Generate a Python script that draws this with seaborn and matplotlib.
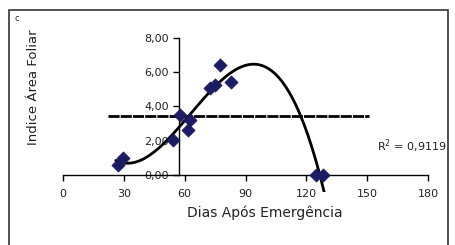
import numpy as np
import pandas as pd
import matplotlib
matplotlib.use("Agg")
import matplotlib.pyplot as plt
import seaborn as sns
from matplotlib.patches import Rectangle

# observed points (days after emergence, leaf area index)
dias = [27, 29.5, 54, 57.5, 61.5, 62.5, 72.5, 75, 77.5, 83, 125, 128]
iaf = [0.6, 1.0, 2.05, 3.5, 2.6, 3.2, 5.1, 5.25, 6.45, 5.4, 0.0, 0.0]

# horizontal reference line
ref_y = 3.45
ref_x = [22, 151]

x_ticks = [0, 30, 60, 90, 120, 150, 180]
y_ticks = [0, 2, 4, 6, 8]
r2_text = "R$^2$ = 0,9119"

sns.set_theme(style="white")
plt.rcParams['font.family'] = ['DejaVu Sans']

df = pd.DataFrame({"dias": dias, "iaf": iaf})

# polynomial trendline fitted to the points
coef = np.polyfit(dias, iaf, 3)
xs = np.linspace(26, 129, 200)
trend = pd.DataFrame({"dias": xs, "iaf": np.polyval(coef, xs)})

fig = plt.figure(figsize=(4.55, 2.45), dpi=100)
ax = fig.add_axes([0.1385, 0.2163, 0.8022, 0.6706])

sns.lineplot(data=trend, x="dias", y="iaf", color="black", lw=2, ax=ax)
ax.plot(ref_x, [ref_y, ref_y], color="black", lw=2, linestyle=(0, (4, 0.4)))
sns.scatterplot(data=df, x="dias", y="iaf", marker="D", s=45, color="#1c1c64",
                edgecolor="#1c1c64", ax=ax, zorder=5)

ax.set_xlim(0, 180)
ax.set_ylim(-1.0, 8.6)
ax.set_xticks(x_ticks)
ax.set_yticks(y_ticks)
ax.set_xticklabels([str(t) for t in x_ticks])
ax.set_yticklabels([f"{t:.2f}".replace(".", ",") for t in y_ticks])

for s in ["top", "right"]:
    ax.spines[s].set_visible(False)
ax.spines["left"].set_position(("data", 57))
ax.spines["left"].set_bounds(0, 8)
ax.spines["bottom"].set_position(("data", 0))
ax.spines["bottom"].set_bounds(0, 180)
for s in ["left", "bottom"]:
    ax.spines[s].set_color("black")
    ax.spines[s].set_linewidth(1)
ax.tick_params(axis="both", direction="out", length=4, width=1, color="black",
               labelsize=8, labelcolor="#222222", left=True, bottom=True)
ax.tick_params(axis="x", pad=6)
ax.tick_params(axis="y", pad=3)
ax.set_xlabel("")
ax.set_ylabel("")

fig.text(0.582, 0.13, "Dias Após Emergência", fontsize=10, ha="center", va="center",
         color="#222222")
fig.text(0.073, 0.645, "Indice Área Foliar", fontsize=9.5, rotation=90,
         ha="center", va="center", color="#222222")
fig.text(0.038, 0.925, "c", fontsize=6, ha="center", va="center")
fig.text(0.828, 0.405, r2_text, fontsize=8, ha="left", va="center", color="#222222")

fig.patches.append(Rectangle((0.02, -0.05), 0.965, 1.01, transform=fig.transFigure,
                             fill=False, edgecolor="#333333", lw=1.2))

fig.savefig("out.png", dpi=100)
